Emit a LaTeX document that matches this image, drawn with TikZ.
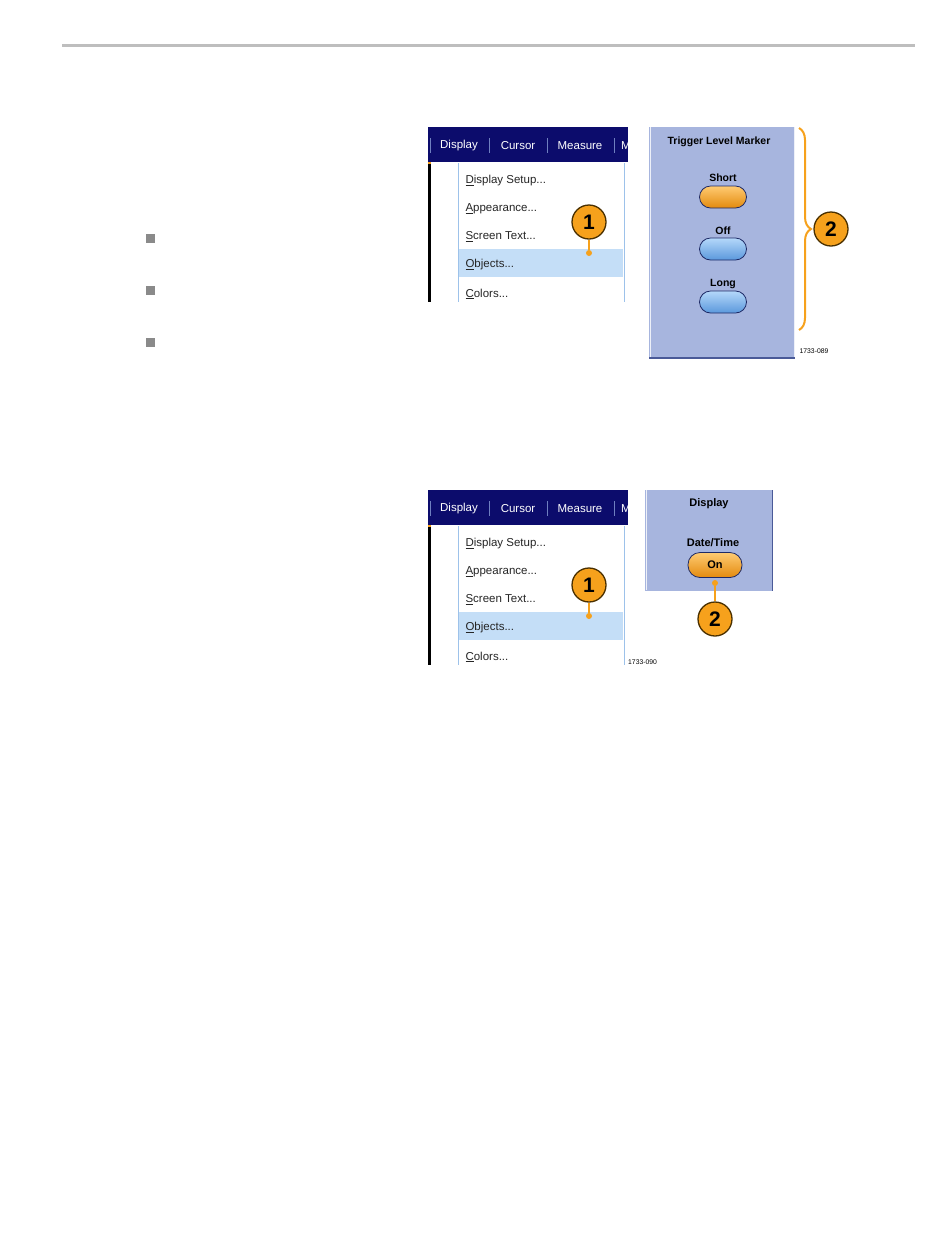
\documentclass[tikz,border=0pt]{standalone}
\usepackage{fontspec}
\setmainfont{Liberation Sans}
\usetikzlibrary{decorations.pathreplacing}

\definecolor{rulegray}{HTML}{BEBEBE}
\definecolor{bulletgray}{HTML}{8A8A8A}
\definecolor{barnavy}{HTML}{0C0C6C}
\definecolor{sepblue}{HTML}{6F7FC0}
\definecolor{menuline}{HTML}{9DC2EA}
\definecolor{hilite}{HTML}{C4DEF7}
\definecolor{panelblue}{HTML}{A7B5DE}
\definecolor{paneledge}{HTML}{4A5A98}
\definecolor{callorange}{HTML}{F6A11C}
\definecolor{callline}{HTML}{4A3000}
\definecolor{btnline}{HTML}{1E2A66}
\definecolor{btntop}{HTML}{B4D8FA}
\definecolor{btnbot}{HTML}{5B98DC}
\definecolor{orgtop}{HTML}{FFCB72}
\definecolor{orgbot}{HTML}{E38A0E}

\begin{document}
\begin{tikzpicture}[x=1pt, y=-1pt,
	bartext/.style={font=\fontsize{11.5}{13}\selectfont, text=white},
	menutext/.style={anchor=west, font=\fontsize{11.5}{13}\selectfont, text=black!85},
	paneltext/.style={font=\bfseries\fontsize{10.5}{12}\selectfont},
	figno/.style={font=\fontsize{6.8}{7}\selectfont},
	pillbtn/.style={draw=btnline, line width=0.8pt, rounded corners=11pt, minimum width=47pt, minimum height=22pt, inner sep=0pt, paneltext},
	orangebtn/.style={pillbtn, top color=orgtop, bottom color=orgbot},
	bluebtn/.style={pillbtn, top color=btntop, bottom color=btnbot},
	callout/.style={circle, draw=callline, line width=1.3pt, fill=callorange, minimum size=34pt, inner sep=0pt, font=\bfseries\fontsize{21}{21}\selectfont},
	calldot/.style={circle, fill=callorange, inner sep=0pt, minimum size=6pt},
	leader/.style={callorange, line width=1.5pt}]
	\useasboundingbox (0,0) rectangle (950,1254);

	%page rule
	\draw[rulegray, line width=3pt] (62,45) -- (915,45);

	%bullets
	\foreach \y in {238, 290, 342}{
		\fill[bulletgray] (146,\y-4.5) rectangle (155,\y+4.5);
	}

	%menus
	\foreach \oy/\tag in {0/a, 363/b}{
		\fill[white] (428,127+\oy) rectangle (628,302+\oy);
		\fill[barnavy] (428,127+\oy) rectangle (628,162+\oy);
		\foreach \x in {430, 489, 547, 614}{
			\draw[sepblue, line width=0.6pt] (\x,138+\oy) -- (\x,153+\oy);
		}
		\node[bartext] (disp\tag) at (459,146+\oy) {Display};
		\node[bartext] (curs\tag) at (518,146+\oy) {Cursor};
		\node[bartext] (meas\tag) at (580,146+\oy) {Measure};
		\begin{scope}
			\clip (428,127+\oy) rectangle (628,162+\oy);
			\node[bartext, anchor=west, inner sep=0pt] (math\tag) at (621,146+\oy) {M};
		\end{scope}
		\fill[black] (428,163+\oy) rectangle (431,302+\oy);
		\fill[callorange] (428,162+\oy) rectangle (431,164+\oy);
		\draw[menuline, line width=1pt] (458,163+\oy) -- (458,302+\oy);
		\draw[menuline, line width=1pt] (624,163+\oy) -- (624,302+\oy);
		\fill[hilite] (459,249+\oy) rectangle (623,277+\oy);
		\node[menutext] (setup\tag) at (462,181+\oy) {\underline{D}isplay Setup...};
		\node[menutext] (appear\tag) at (462,209+\oy) {\underline{A}ppearance...};
		\node[menutext] (scrtxt\tag) at (462,237+\oy) {\underline{S}creen Text...};
		\node[menutext] (objs\tag) at (462,265+\oy) {\underline{O}bjects...};
		\node[menutext] (colors\tag) at (462,294+\oy) {\underline{C}olors...};
		\node[callout] (one\tag) at (589,222+\oy) {1};
		\node[calldot] (onedot\tag) at (589,253+\oy) {};
		\draw[leader] (onedot\tag) -- (one\tag);
	}

	%trigger level marker panel
	\fill[panelblue] (649,127) rectangle (795,359);
	\draw[white!80!panelblue, line width=1pt] (650,127) -- (650,357);
	\draw[white!80!panelblue, line width=1pt] (794,127) -- (794,357);
	\draw[paneledge, line width=1.5pt] (649,358) -- (795,358);
	\node[paneltext] (trig) at (719,142) {Trigger Level Marker};
	\node[paneltext] (short) at (723,178) {Short};
	\node[orangebtn] (shortbtn) at (723,197) {};
	\node[paneltext] (off) at (723,231) {Off};
	\node[bluebtn] (offbtn) at (723,249) {};
	\node[paneltext] (long) at (723,284) {Long};
	\node[bluebtn] (longbtn) at (723,302) {};
	\node[figno] (fig89) at (814,351) {1733-089};
	\draw[decorate, decoration={brace, amplitude=12pt}, callorange, line width=2pt] (799,128) -- (799,330);
	\node[callout] (twoa) at (831,229) {2};

	%display panel
	\fill[panelblue] (645,490) rectangle (773,591);
	\draw[white!80!panelblue, line width=1pt] (646,490) -- (646,590);
	\draw[paneledge, line width=1pt] (772.5,490) -- (772.5,591);
	\node[paneltext, font=\bfseries\fontsize{11}{12}\selectfont] (dispttl) at (709,504) {Display};
	\node[paneltext, font=\bfseries\fontsize{11}{12}\selectfont] (datetime) at (713,543) {Date/Time};
	\node[orangebtn, minimum width=54pt, minimum height=25pt, rounded corners=12pt, font=\bfseries\fontsize{11}{12}\selectfont] (onbtn) at (715,565) {On};
	\node[calldot] (twodot) at (715,583) {};
	\node[callout] (twob) at (715,619) {2};
	\draw[leader] (twodot) -- (twob);
	\node[figno, anchor=west, inner sep=0pt] (fig90) at (628,662) {1733-090};
\end{tikzpicture}
\end{document}
